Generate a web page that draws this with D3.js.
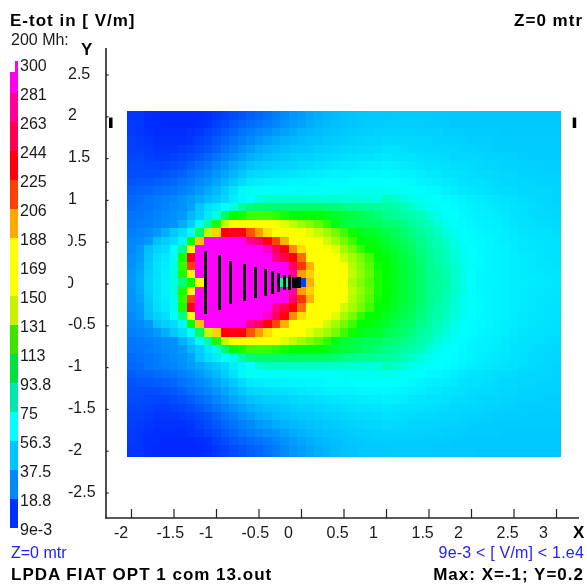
<!DOCTYPE html>
<html><head><meta charset="utf-8">
<style>
html,body{margin:0;padding:0;background:#fff}
svg{display:block}
text{font-family:"Liberation Sans",Arial,sans-serif;font-size:16px;fill:#1a1a1a}
text.b{font-weight:bold;fill:#000;font-size:17px;letter-spacing:1px}
text.blue{fill:#2222ff}
.soft{filter:blur(0.35px)}
</style></head><body>
<svg id="c" width="587" height="588"></svg>
<script src="https://cdn.jsdelivr.net/npm/d3@7"></script>
<script>
const legendLabels=["9e-3","18.8","37.5","56.3","75","93.8","113","131","150","169","188","206","225","244","263","281","300"];
const legendColors=["#0030ff","#0088ff","#00c4ff","#00ffff","#00e8b0","#00e040","#40e000","#c8f000","#ffff00","#ffff00","#ffa800","#ff4000","#ff0010","#ff0050","#ff0098","#ff00f0"];
const colorStops=[0,5,20,40,56,70,85,105,125,140,155,185,197,215,232,255,272,290];
const colorValues=["#0018ff","#0028ff","#0070ff","#00b0ff","#00d8ff","#00ffff","#00ff99","#00ff00","#60ff00","#c0ff00","#ffff00","#ffff00","#ffb000","#ff4000","#ff0000","#ff0060","#ff00a0","#ff00ff"];
const xTicks=[-2,-1.5,-1,-0.5,0,0.5,1,1.5,2,2.5,3];
const yTicks=[2.5,2,1.5,1,0.5,0,-0.5,-1,-1.5,-2,-2.5];
const dipoleX=[-1.118,-0.957,-0.827,-0.66,-0.54,-0.42,-0.34,-0.26,-0.20,-0.14,-0.09,-0.065,-0.04,-0.015];
const dipoleHalf=[0.38,0.33,0.26,0.22,0.19,0.165,0.14,0.11,0.095,0.085,0.07,0.065,0.065,0.06];
const endMarksX=[-2.235,3.22];
const endMarksY=[1.985,1.86];
// field magnitude [V/m], rows from Y=2 down to Y=0, columns from X=-2 to X=3
const fieldUpper=[
[8,8,6,5,5,5,5,5,5,6,8,10,12,14,16,18,20,24,28,32,34,37,40,42,45,47,48,50,50,50,50,51,51,51,51,51,50,50,50,50,50,49,49,49,49,49,49,49,49,49,49],
[9,8,6,6,5,5,5,5,6,7,10,12,15,17,19,21,24,27,31,34,36,39,42,44,46,48,49,50,51,51,52,52,52,52,52,51,51,51,50,50,50,50,50,50,50,50,50,50,50,50,50],
[9,8,7,6,6,6,6,7,8,10,12,15,18,21,24,27,29,32,35,38,41,43,45,47,48,50,51,52,52,53,54,54,54,54,53,53,53,52,52,52,51,51,51,51,50,50,50,50,50,50,50],
[10,9,8,7,7,7,7,8,10,12,15,18,21,25,28,32,35,38,41,43,45,47,48,50,51,52,53,54,55,55,57,56,56,55,55,55,54,54,53,53,52,52,52,51,51,51,51,51,51,51,51],
[10,10,9,8,8,8,9,10,12,14,17,21,25,30,34,38,41,44,46,48,49,50,52,53,54,55,56,57,57,58,59,59,58,57,57,56,56,55,55,54,54,53,53,52,52,52,52,51,51,51,51],
[11,11,10,9,9,10,11,13,15,18,22,26,31,35,40,43,46,48,50,52,53,54,55,56,57,58,59,60,60,61,62,61,60,60,59,58,58,57,56,56,55,55,54,54,53,53,52,52,52,52,52],
[12,12,11,11,11,12,14,16,19,22,27,32,37,42,47,50,52,53,54,55,57,58,59,60,61,62,62,63,64,64,65,64,63,62,61,60,60,59,58,58,57,56,55,55,54,54,53,53,53,52,52],
[13,13,13,13,14,15,17,20,23,27,32,37,43,49,55,57,58,59,60,61,62,63,64,65,66,66,66,67,67,67,68,67,66,65,64,62,62,60,60,59,58,57,57,56,55,55,54,54,53,53,53],
[14,15,15,16,17,18,21,24,28,32,37,43,50,57,62,64,65,65,66,67,67,68,68,69,69,69,70,70,70,70,70,70,69,68,66,65,64,63,62,60,59,59,58,57,56,56,55,55,54,54,54],
[16,17,18,19,20,22,25,28,33,38,44,52,60,68,72,70,70,71,71,71,71,71,71,71,71,72,72,72,72,72,72,72,71,71,70,68,67,65,64,62,61,60,59,58,58,57,56,56,55,55,54],
[18,19,21,23,25,27,30,34,38,44,50,56,63,68,70,76,78,78,78,78,78,78,77,77,77,76,76,76,75,75,80,78,76,73,72,71,70,69,68,66,64,63,62,61,60,59,58,57,56,55,54],
[19,20,22,24,26,29,31,36,50,58,63,70,75,85,90,92,92,92,92,92,92,92,92,91,90,88,87,86,86,85,84,83,81,78,75,72,71,70,69,67,65,64,63,62,61,60,59,58,57,56,55],
[21,22,24,26,28,30,33,44,52,62,75,92,105,110,118,118,118,115,110,106,105,105,105,102,100,98,96,94,92,90,87,86,84,82,80,76,73,71,70,68,66,65,64,63,62,60,59,58,57,57,56],
[22,23,25,27,29,31,40,52,68,84,110,140,158,165,165,165,165,160,148,140,135,130,125,115,102,98,96,95,94,93,91,90,88,85,83,80,76,73,71,69,67,66,65,64,62,61,60,59,58,58,57],
[25,26,28,33,40,50,58,70,93,140,192,232,238,236,212,200,190,175,170,165,160,148,140,135,128,118,108,102,100,99,95,93,91,88,85,82,79,75,72,70,69,67,66,65,64,62,61,60,59,59,58],
[27,28,33,46,52,58,68,105,194,290,295,295,295,290,268,258,235,214,197,170,170,165,158,143,135,128,118,105,104,102,99,96,93,91,87,84,81,78,74,71,69,68,67,65,64,63,62,61,60,60,59],
[28,33,46,54,58,70,88,165,295,295,295,295,295,295,295,295,280,255,232,203,190,170,165,160,148,135,128,115,105,104,101,98,95,93,89,85,82,79,75,72,70,68,67,66,65,63,62,61,61,60,59],
[30,34,48,58,62,72,110,238,295,295,295,295,295,295,295,295,290,265,250,232,208,170,165,160,158,143,135,128,118,105,103,100,97,94,90,86,83,80,76,73,70,69,67,66,65,64,63,62,61,60,60],
[31,36,50,60,64,73,115,215,295,295,295,295,295,295,295,295,295,295,288,258,218,197,170,165,160,155,138,130,122,108,105,101,98,95,91,87,84,81,77,73,71,69,67,66,65,64,63,62,61,61,60],
[32,38,52,60,65,75,110,165,295,295,295,295,295,295,295,295,295,295,295,272,200,192,170,168,165,160,140,132,125,110,105,101,98,95,91,87,85,82,78,74,70,68,67,66,65,64,63,62,62,61,61],
[33,39,53,61,66,75,90,105,168,295,295,295,295,295,295,295,295,295,85,295,10,197,170,168,165,160,137,130,122,110,106,101,98,95,91,87,85,83,78,74,70,68,67,66,65,64,63,63,62,62,61]
];
// the field is symmetric about Y=0: the lower half repeats the upper rows
const field=fieldUpper.concat(fieldUpper.slice(0,20).reverse());

const svg=d3.select("#c");
const color=d3.scaleLinear().domain(colorStops).range(colorValues).clamp(true);
const x=d3.scaleLinear().domain([-2,3]).range([131,556]);
const y=d3.scaleLinear().domain([-2.5,2.5]).range([492.5,74.5]);
const colBand=d3.scaleBand().domain(d3.range(51)).range([127,560.7]);
const rowPos=d3.scaleLinear().domain([0,41]).range([111.3,453.6]);
const plotBottom=456.7;
const tickFmt=d=>String(d);

// heat cells
const heat=svg.append("g").attr("shape-rendering","crispEdges");
field.forEach((row,r)=>{
  heat.selectAll(null).data(row).enter().append("rect")
    .attr("x",(d,c)=>colBand(c))
    .attr("y",rowPos(r))
    .attr("width",colBand.bandwidth()+0.3)
    .attr("height",(r===40?plotBottom:rowPos(r+1)+0.3)-rowPos(r))
    .attr("fill",d=>color(d));
});

// antenna elements
svg.append("g").attr("shape-rendering","crispEdges").selectAll("rect")
  .data(dipoleX.map((v,i)=>({v,h:dipoleHalf[i]}))).enter().append("rect")
  .attr("x",d=>x(d.v)-1.5).attr("width",3)
  .attr("y",d=>y(d.h)-1).attr("height",d=>y(-d.h)-y(d.h))
  .attr("fill","#000");
svg.append("g").selectAll("rect").data(endMarksX).enter().append("rect")
  .attr("x",d=>x(d)-2).attr("width",3.5)
  .attr("y",y(endMarksY[0])).attr("height",y(endMarksY[1])-y(endMarksY[0]))
  .attr("fill","#000");

// axes
const axes=svg.append("g").attr("class","soft");
const bottomAxis=d3.axisBottom(x).tickValues(xTicks).tickSizeInner(-9).tickSizeOuter(0).tickFormat(tickFmt);
const gx=axes.append("g").attr("transform","translate(0,518)").call(bottomAxis);
gx.select(".domain").remove();
gx.selectAll("line").attr("stroke","#222").attr("stroke-width",1.2);
gx.selectAll("text").attr("text-anchor","start").attr("x",-17.5).attr("y",8).attr("dy","0.72em").attr("fill",null).attr("style","font-size:16px");

const leftAxis=d3.axisLeft(y).tickValues(yTicks).tickSizeInner(-2.5).tickSizeOuter(0).tickFormat(tickFmt);
const gy=axes.append("g").attr("transform","translate(106,0)").call(leftAxis);
gy.select(".domain").remove();
gy.selectAll("line").attr("stroke","#222").attr("stroke-width",1.2);
gy.selectAll("text").attr("text-anchor","start")
  .attr("x",d=>d===0?-41:d===0.5?-41.5:-38).attr("dy","0.22em").attr("fill",null);
gy.selectAll(".tick").filter(d=>d===0).select("text").attr("style","clip-path:inset(0 0 0 3px)");
gy.selectAll(".tick").filter(d=>d===0.5).select("text").attr("style","clip-path:inset(0 0 0 3.5px)");
axes.append("line").attr("x1",106).attr("x2",106).attr("y1",48).attr("y2",518.5).attr("stroke","#222").attr("stroke-width",1.6);
axes.append("line").attr("x1",105.2).attr("x2",579).attr("y1",518).attr("y2",518).attr("stroke","#222").attr("stroke-width",1.6);

// legend
const legY=d3.scaleLinear().domain([0,16]).range([529,65]);
const leg=svg.append("g").attr("shape-rendering","crispEdges");
leg.selectAll("rect").data(legendColors).enter().append("rect")
  .attr("x",10).attr("width",8)
  .attr("y",(d,i)=>i===15?72:legY(i+1)-1)
  .attr("height",(d,i)=>i===15?legY(15)-1-72:legY(i)-legY(i+1))
  .attr("fill",d=>d);
leg.append("rect").attr("x",15).attr("width",3).attr("y",61).attr("height",11).attr("fill",legendColors[15]);
const legText=svg.append("g").attr("class","soft");
legText.selectAll("text").data(legendLabels).enter().append("text")
  .attr("x",20).attr("y",(d,i)=>legY(i)).attr("dy","0.36em").text(d=>d);

// captions
const cap=svg.append("g").attr("class","soft");
const caption=(t,xp,yp,cls,anchor)=>cap.append("text").attr("x",xp).attr("y",yp).attr("class",cls||null).attr("text-anchor",anchor||"start").text(t);
caption("E-tot in [ V/m]",10,26,"b");
caption("Z=0 mtr",583,26,"b","end");
caption("200 Mh:",11,45);
caption("Y",81,55,"b");
caption("X",573,538,"b");
caption("Z=0 mtr",11,558,"blue");
caption("9e-3 < [ V/m] < 1.e4",584,558,"blue","end").attr("style","letter-spacing:0.2px");
caption("LPDA FIAT OPT 1 com 13.out",11,580,"b");
caption("Max: X=-1; Y=0.2",584,580,"b","end");
</script>
</body></html>
